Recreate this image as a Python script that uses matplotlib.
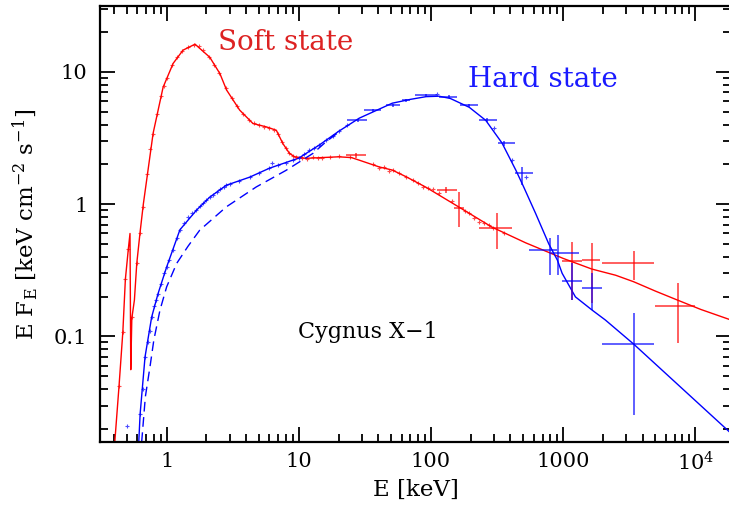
import numpy as np
import matplotlib
matplotlib.use("Agg")
import matplotlib.pyplot as plt
from matplotlib.ticker import FixedLocator, FixedFormatter, LogLocator, NullFormatter

# ---- soft state (red) ----
soft_model_e = [0.405, 0.436, 0.466, 0.487, 0.513, 0.528, 0.535, 0.545, 0.57, 0.594, 0.629, 0.666,
                0.79, 0.94, 1.12, 1.33, 1.64, 2.12, 2.53, 2.84, 3.57, 4.5, 5.68, 6.76, 7.58, 8.5,
                9.3, 11.3, 15, 20, 25, 28.7, 40.7, 51, 65, 92, 163, 290, 521, 1000, 1650, 2500,
                3420, 5000, 7360, 11000, 18660]
soft_model_f = [0.0159, 0.042, 0.108, 0.27, 0.46, 0.60, 0.056, 0.137, 0.188, 0.356, 0.61, 1.0,
                3.44, 7.66, 11.6, 14.6, 16.2, 12.9, 9.7, 7.3, 5.14, 4.07, 3.84, 3.62, 2.87, 2.42,
                2.28, 2.22, 2.25, 2.28, 2.25, 2.15, 1.91, 1.81, 1.61, 1.34, 0.95, 0.67, 0.51,
                0.389, 0.323, 0.29, 0.259, 0.22, 0.188, 0.16, 0.133]

soft_pts_e = [0.436, 0.466, 0.487, 0.513, 0.545, 0.594, 0.63, 0.66, 0.706, 0.75, 0.79, 0.84,
              0.9, 0.95, 1.0, 1.1, 1.2, 1.3, 1.45, 1.6, 1.75, 1.9, 2.1, 2.3, 2.5, 2.8, 3.1, 3.4,
              3.8, 4.2, 4.6, 5.0, 5.5, 6.0, 6.5, 7.0, 7.5, 8.0, 8.5, 9.0, 9.5, 10.5, 11.5, 12.8,
              14, 15.1, 17.1, 20.2, 24.4, 36.3, 40.7, 44, 48.4, 51.3, 57.8, 64.8, 72.8, 80,
              86.7, 95, 103, 115, 145, 180, 194, 210, 231, 250, 274, 295, 357]
soft_pts_f = [0.042, 0.108, 0.27, 0.46, 0.14, 0.356, 0.61, 0.95, 1.7, 2.6, 3.4, 4.8,
              6.6, 7.8, 9.0, 11.3, 13.0, 14.3, 15.5, 16.1, 15.8, 14.6, 13.0, 11.2, 9.8, 7.5, 6.3,
              5.5, 4.8, 4.3, 4.1, 3.95, 3.85, 3.75, 3.65, 3.4, 2.95, 2.65, 2.45, 2.33, 2.28,
              2.24, 2.2, 2.26, 2.22, 2.25, 2.28, 2.3, 2.27, 2.0, 1.87, 1.9, 1.78, 1.81, 1.72,
              1.61, 1.52, 1.45, 1.35, 1.33, 1.31, 1.22, 1.05, 0.88, 0.85, 0.78, 0.735, 0.72,
              0.694, 0.66, 0.60]

# binned soft points: centre, bin low/high, flux, flux low/high
soft_bin_e = [27, 130, 163, 318, 1172, 1660, 3420, 7360]
soft_bin_elo = [22.8, 112, 150, 231, 984, 1394, 1973, 4930]
soft_bin_ehi = [32.4, 158, 178, 413, 1394, 1919, 4845, 9890]
soft_bin_f = [2.35, 1.28, 0.93, 0.655, 0.373, 0.377, 0.356, 0.170]
soft_bin_flo = [2.25, 1.22, 0.674, 0.46, 0.188, 0.179, 0.267, 0.0895]
soft_bin_fhi = [2.45, 1.34, 1.24, 0.85, 0.519, 0.51, 0.444, 0.252]

# ---- hard state (blue) ----
hard_model_e = [0.615, 0.63, 0.686, 0.77, 0.86, 1.0, 1.26, 1.68, 2.12, 2.83, 4.25, 6.0, 10,
                14.3, 20, 28.7, 51, 70, 92, 115, 140, 195, 260, 345, 440, 505, 620, 780, 906,
                984, 1240, 1660, 2090, 3420, 18660]
hard_model_f = [0.0159, 0.026, 0.07, 0.14, 0.21, 0.335, 0.64, 0.90, 1.13, 1.39, 1.6, 1.87, 2.23,
                2.8, 3.55, 4.47, 5.8, 6.2, 6.5, 6.55, 6.3, 5.4, 4.3, 2.9, 1.8, 1.34, 0.85, 0.5,
                0.377, 0.30, 0.199, 0.158, 0.133, 0.0875, 0.0185]

hard_comp_e = [0.647, 0.69, 0.75, 0.8, 0.89, 1.0, 1.19, 1.45, 1.78, 2.83, 4.77, 8.0, 12.8, 16, 20]
hard_comp_f = [0.0159, 0.035, 0.06, 0.094, 0.158, 0.237, 0.356, 0.48, 0.636, 0.954, 1.35, 1.8,
               2.42, 2.95, 3.5]

hard_pts_e = [0.50, 0.63, 0.66, 0.69, 0.72, 0.75, 0.77, 0.8, 0.83, 0.86, 0.9, 0.95, 1.0, 1.05,
              1.12, 1.2, 1.26, 1.35, 1.45, 1.55, 1.68, 1.8, 1.9, 2.0, 2.12, 2.25, 2.4, 2.55, 2.7,
              2.83, 3.0, 3.5, 4.25, 5.0, 6.0, 6.3, 7.0, 8.0, 9.0, 10, 11, 12, 13, 14.3, 16, 18,
              20, 23, 112, 300, 413, 521]
hard_pts_f = [0.021, 0.026, 0.04, 0.07, 0.09, 0.11, 0.14, 0.17, 0.19, 0.21, 0.25, 0.3, 0.335,
              0.38, 0.45, 0.55, 0.64, 0.72, 0.8, 0.86, 0.9, 0.97, 1.02, 1.07, 1.13, 1.18, 1.24,
              1.3, 1.35, 1.39, 1.42, 1.5, 1.6, 1.72, 1.87, 2.04, 1.98, 2.05, 2.15, 2.23, 2.4,
              2.55, 2.65, 2.8, 3.05, 3.3, 3.6, 3.95, 6.75, 3.75, 2.15, 1.61]

hard_bin_e = [28, 36.3, 51.3, 64.8, 91.6, 137, 194, 267, 357, 491, 795, 918, 1172, 1660, 3420]
hard_bin_elo = [23, 31, 46, 60, 75.7, 116, 166, 231, 322, 433, 552, 805, 984, 1380, 1973]
hard_bin_ehi = [33, 42, 58, 70, 112, 158, 228, 316, 433, 593, 897, 1316, 1380, 1973, 4845]
hard_bin_f = [4.3, 5.13, 5.6, 6.11, 6.67, 6.47, 5.6, 4.31, 2.88, 1.71, 0.449, 0.424, 0.262, 0.233, 0.0875]
hard_bin_flo = [4.2, 5.0, 5.45, 5.95, 6.5, 6.3, 5.45, 4.15, 2.75, 1.39, 0.29, 0.29, 0.188, 0.158, 0.0254]
hard_bin_fhi = [4.4, 5.25, 5.75, 6.25, 6.85, 6.65, 5.75, 4.45, 3.0, 1.91, 0.553, 0.583, 0.358, 0.301, 0.149]

x_ticks = [1, 10, 100, 1000, 10000]
x_tick_labels = ["1", "10", "100", "1000", "10$^4$"]
y_ticks = [0.1, 1, 10]
y_tick_labels = ["0.1", "1", "10"]

RED = "#ff0000"
BLUE = "#0000ff"

plt.rcParams["font.family"] = "DejaVu Serif"
plt.rcParams["mathtext.fontset"] = "dejavuserif"


def draw_bins(ax, e, elo, ehi, f, flo, fhi, color):
  e = np.array(e)
  f = np.array(f)
  xerr = [e - np.array(elo), np.array(ehi) - e]
  yerr = [f - np.array(flo), np.array(fhi) - f]
  ax.errorbar(e, f, xerr=xerr, yerr=yerr, fmt="none", ecolor=color, elinewidth=1.1,
              capsize=0, alpha=0.8)


def main():
  fig = plt.figure(figsize=(7.29, 5.12), dpi=100)
  ax = fig.add_axes([100 / 729, 1 - 442 / 512, 631 / 729, 436 / 512])

  # models
  ax.plot(soft_model_e, soft_model_f, color=RED, lw=1.0)
  ax.plot(hard_model_e, hard_model_f, color=BLUE, lw=1.0)
  ax.plot(hard_comp_e, hard_comp_f, color=BLUE, lw=1.0, ls=(0, (7, 4)))

  # data
  ax.plot(soft_pts_e, soft_pts_f, "+", color=RED, ms=3, mew=0.8, alpha=0.7)
  ax.plot(hard_pts_e, hard_pts_f, "+", color=BLUE, ms=3, mew=0.8, alpha=0.7)
  draw_bins(ax, soft_bin_e, soft_bin_elo, soft_bin_ehi, soft_bin_f, soft_bin_flo, soft_bin_fhi, RED)
  draw_bins(ax, hard_bin_e, hard_bin_elo, hard_bin_ehi, hard_bin_f, hard_bin_flo, hard_bin_fhi, BLUE)

  ax.set_xscale("log")
  ax.set_yscale("log")
  ax.set_xlim(0.313, 1.866e4)
  ax.set_ylim(0.0159, 31.5)

  ax.xaxis.set_major_locator(FixedLocator(x_ticks))
  ax.xaxis.set_major_formatter(FixedFormatter(x_tick_labels))
  ax.yaxis.set_major_locator(FixedLocator(y_ticks))
  ax.yaxis.set_major_formatter(FixedFormatter(y_tick_labels))
  for axis in (ax.xaxis, ax.yaxis):
    axis.set_minor_locator(LogLocator(base=10, subs=np.arange(2, 10), numticks=20))
    axis.set_minor_formatter(NullFormatter())

  ax.tick_params(which="both", direction="in", top=True, right=True, labelsize=15, width=1.3)
  ax.tick_params(which="major", length=11)
  ax.tick_params(which="minor", length=6)
  ax.tick_params(axis="x", pad=7)
  ax.tick_params(axis="y", pad=9)
  for sp in ax.spines.values():
    sp.set_linewidth(1.6)

  ax.set_xlabel("E [keV]", fontsize=16.5, labelpad=3)
  ax.set_ylabel(r"E F$_{\mathrm{E}}$ [keV cm$^{-2}$ s$^{-1}$]", fontsize=16.5, labelpad=10)

  ax.text(2.44, 14.6, "Soft state", color="#dd2222", fontsize=20, ha="left", va="baseline")
  ax.text(190, 7.67, "Hard state", color="#1a1aff", fontsize=20, ha="left", va="baseline")
  ax.text(9.87, 0.0969, "Cygnus X\u22121", color="black", fontsize=16, ha="left", va="baseline")

  fig.savefig("out.png", dpi=100)


if __name__ == "__main__":
  main()
